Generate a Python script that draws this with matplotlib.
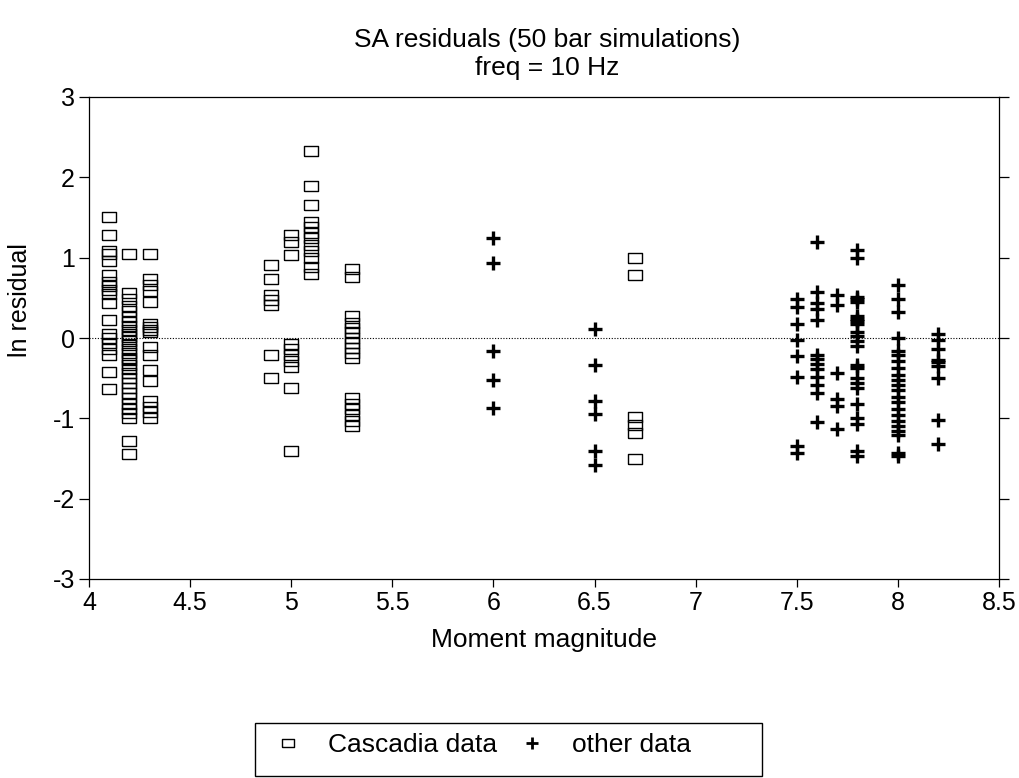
#SA residuals vs moment magnitude (10 Hz)
import numpy as np
import matplotlib
matplotlib.use('Agg')
import matplotlib.pyplot as plt
from matplotlib.lines import Line2D
from matplotlib.patches import Rectangle

plt.rcParams['font.family'] = ['Liberation Sans', 'DejaVu Sans']
plt.rcParams['axes.unicode_minus'] = False

#Datos Cascadia (cuadrados)
mag_cascadia = [4.1, 4.2, 4.3, 4.9, 5.0, 5.1, 5.3, 6.7]
res_cascadia = [
    [1.51, 1.28, 1.08, 1.04, 0.96, 0.78, 0.70, 0.65, 0.60, 0.55, 0.43, 0.23,
     0.05, 0.0, -0.06, -0.14, -0.21, -0.42, -0.63],
    [1.05, 0.56, 0.48, 0.40, 0.33, 0.26, 0.20, 0.15, 0.10, 0.05, 0.01, -0.04,
     -0.09, -0.14, -0.19, -0.25, -0.28, -0.33, -0.38, -0.44, -0.50, -0.56,
     -0.62, -0.68, -0.75, -0.82, -0.88, -0.93, -0.99, -1.28, -1.45],
    [1.05, 0.73, 0.66, 0.59, 0.45, 0.18, 0.14, 0.10, 0.07, -0.11, -0.21,
     -0.40, -0.54, -0.79, -0.86, -0.92, -0.99],
    [0.91, 0.73, 0.53, 0.47, 0.41, -0.21, -0.50],
    [1.28, 1.20, 1.03, -0.07, -0.14, -0.21, -0.29, -0.36, -0.62, -1.41],
    [2.33, 1.89, 1.65, 1.44, 1.38, 1.31, 1.25, 1.16, 1.08, 1.00, 0.89, 0.80],
    [0.86, 0.76, 0.27, 0.19, 0.13, 0.07, 0.0, -0.06, -0.12, -0.19, -0.25,
     -0.75, -0.82, -0.88, -0.96, -1.03, -1.09],
    [1.00, 0.79, -0.98, -1.08, -1.18, -1.51],
]

#Otros datos (cruces)
mag_otros = [6.0, 6.5, 7.5, 7.6, 7.7, 7.8, 8.0, 8.2]
res_otros = [
    [1.25, 0.93, -0.16, -0.52, -0.87],
    [0.11, -0.34, -0.78, -0.95, -1.41, -1.58],
    [0.48, 0.39, 0.17, -0.03, -0.23, -0.49, -1.34, -1.43],
    [1.19, 0.57, 0.43, 0.36, 0.23, -0.21, -0.26, -0.32, -0.39, -0.49, -0.59,
     -0.69, -1.05],
    [0.54, 0.41, -0.44, -0.76, -0.85, -1.13],
    [1.10, 1.00, 0.51, 0.48, 0.45, 0.27, 0.24, 0.21, 0.18, 0.08, 0.02, -0.04,
     -0.10, -0.33, -0.37, -0.50, -0.56, -0.62, -0.82, -0.99, -1.07, -1.41,
     -1.47],
    [0.66, 0.49, 0.32, 0.0, -0.16, -0.21, -0.29, -0.37, -0.46, -0.52, -0.59,
     -0.65, -0.73, -0.80, -0.88, -0.96, -1.03, -1.09, -1.16, -1.21, -1.43,
     -1.47],
    [0.05, -0.02, -0.14, -0.27, -0.30, -0.35, -0.50, -1.02, -1.32],
]

xticks = [4, 4.5, 5, 5.5, 6, 6.5, 7, 7.5, 8, 8.5]
xtick_labels = ['4', '4.5', '5', '5.5', '6', '6.5', '7', '7.5', '8', '8.5']
yticks = [-3, -2, -1, 0, 1, 2, 3]


def aplanar(mags, res):
    x = np.concatenate([np.full(len(r), m) for m, r in zip(mags, res)])
    y = np.concatenate([np.array(r) for r in res])
    return x, y


#Marcador rectangular (mas ancho que alto)
caja = [(-0.7, -0.5), (0.7, -0.5), (0.7, 0.5), (-0.7, 0.5), (-0.7, -0.5)]

fig = plt.figure(figsize=(10.2, 7.78), dpi=100)
ax = fig.add_axes([89 / 1020, 1 - 579 / 778, 910 / 1020, 482 / 778])

xc, yc = aplanar(mag_cascadia, res_cascadia)
xo, yo = aplanar(mag_otros, res_otros)

ax.axhline(0, color='black', lw=0.8, ls=(0, (1, 1.5)), zorder=1)
ax.plot(xc, yc, ls='none', marker=caja, ms=10, mfc='none', mec='black',
        mew=1.0, zorder=3)
ax.plot(xo, yo, ls='none', marker='+', ms=10.5, mec='black', mew=2.4,
        zorder=3)

ax.set_xlim(4, 8.5)
ax.set_ylim(-3, 3)
ax.set_xticks(xticks)
ax.set_xticklabels(xtick_labels)
ax.set_yticks(yticks)
for s in ax.spines.values():
    s.set_linewidth(0.9)
ax.tick_params(axis='both', direction='out', length=6, width=0.9,
               labelsize=18, pad=3)
ax.tick_params(axis='y', right=True, length=7)

ax.set_xlabel('Moment magnitude', fontsize=19)
ax.xaxis.set_label_coords(0.5, -0.102)
ax.set_ylabel('ln residual', fontsize=18)
ax.yaxis.set_label_coords(-0.0626, 0.579)

fig.text(547 / 1020, 1 - 54 / 778,
         'SA residuals (50 bar simulations)\nfreq = 10 Hz',
         ha='center', va='center', fontsize=19, linespacing=1.25)

#Leyenda sin marco + caja manual
h1 = Line2D([], [], ls='none', marker=caja, ms=9, mfc='none', mec='black',
            mew=1.0)
h2 = Line2D([], [], ls='none', marker='+', ms=9, mec='black', mew=2.0)
fig.legend([h1, h2], ['Cascadia data', 'other data'], ncol=2, frameon=False,
           loc='center', bbox_to_anchor=(483 / 1020, 1 - 745 / 778),
           fontsize=19, handlelength=1.0, handletextpad=1.0,
           columnspacing=0.85)
fig.patches.append(Rectangle((255 / 1020, 1 - 776 / 778), 507 / 1020,
                             53 / 778, transform=fig.transFigure,
                             fill=False, lw=1.0, ec='black'))

fig.savefig('out.png', dpi=100)
